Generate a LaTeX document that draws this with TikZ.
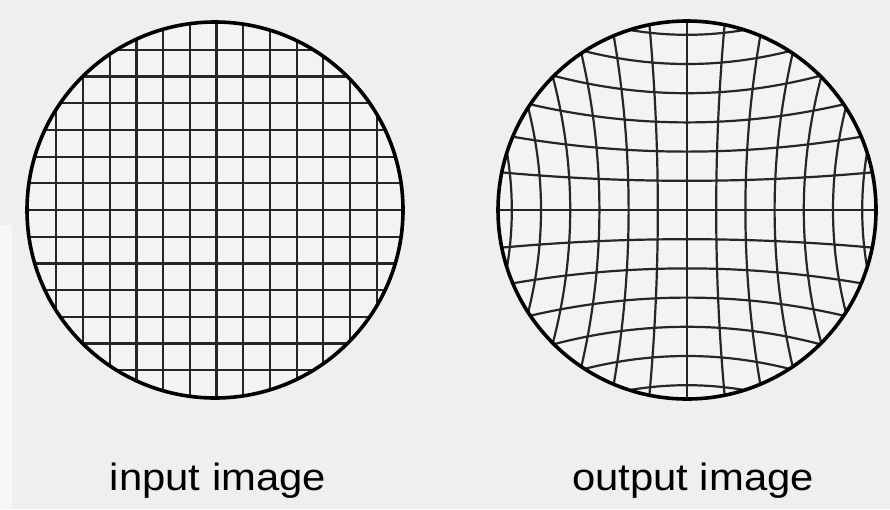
\documentclass[tikz,border=0pt]{standalone}
\usepackage{fontspec}
\setmainfont{Liberation Sans}
\definecolor{bgc}{HTML}{EFEFEF}
\definecolor{innerc}{HTML}{F3F3F3}
\definecolor{stripc}{HTML}{F7F7F7}
\definecolor{gridc}{HTML}{262626}
\tikzset{
  gridline/.style={draw=gridc, line width=2.2pt},
  rim/.style={draw=black, line width=3.6pt},
  lab/.style={font=\fontsize{38}{45}\selectfont, anchor=base, inner sep=0pt}
}
\begin{document}
\begin{tikzpicture}[x=1pt,y=-1pt]
\useasboundingbox (0,0) rectangle (890,509);
\fill[bgc] (0,0) rectangle (890,509);
\fill[stripc] (0,225) rectangle (12,509);
% input image: regular grid
\begin{scope}
  \clip (215,210) circle (188);
  \fill[innerc] (215,210) circle (188);
  \foreach \i in {-6,...,6} {
    \draw[gridline] ({216.5+26.7*\i},15) -- ({216.5+26.7*\i},405);
    \draw[gridline] (20,{210+26.7*\i}) -- (410,{210+26.7*\i});
  }
\end{scope}
\draw[rim] (215,210) circle (188);
% output image: pincushion-distorted grid
\begin{scope}[shift={(687pt,-210pt)}, x=189pt, y=-189pt]
  \begin{scope}
    \clip (0,0) circle (1);
    \fill[innerc] (0,0) circle (1);
    \foreach \i in {-6,...,6} {
      \draw[gridline] plot[domain=-1:1, samples=60, smooth, variable=\t]
        ({\t}, {\i*0.1545*(1+0.3*\t*\t)});
      \draw[gridline] plot[domain=-1:1, samples=60, smooth, variable=\t]
        ({\i*0.1545*(1+0.3*\t*\t)}, {\t});
    }
  \end{scope}
  \draw[rim] (0,0) circle (1);
\end{scope}
\node[lab] (inlab) at (218,490) {\scalebox{1.1}[1]{input image}};
\node[lab] (outlab) at (693,490) {\scalebox{1.1}[1]{output image}};
\end{tikzpicture}
\end{document}
